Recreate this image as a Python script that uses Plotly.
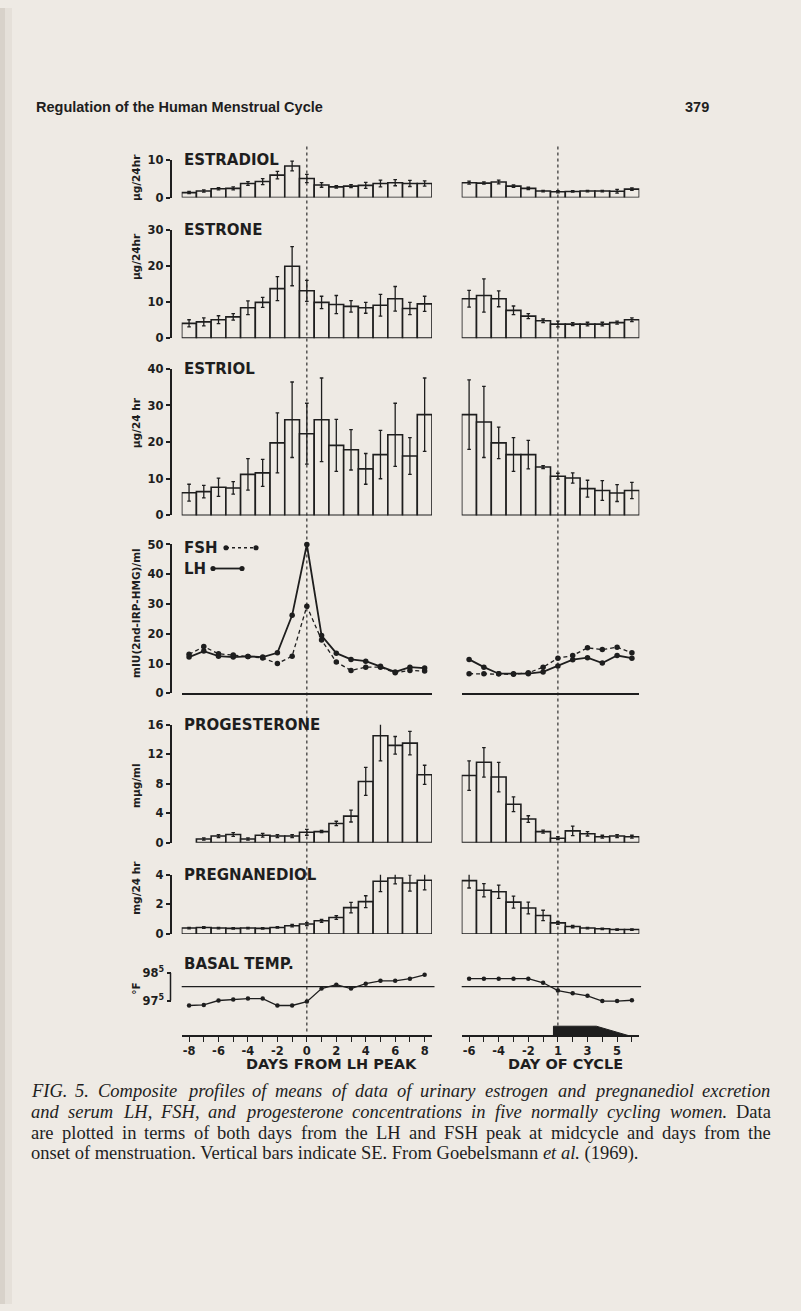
import plotly.graph_objects as go

W, H = 801, 1311
BG = '#eeeae4'
INK = '#1e1e1e'

# ---------------- data ----------------
lh_days = list(range(-8, 9))                      # days from LH peak
prog_days = list(range(-7, 9))                    # progesterone starts at day -7
cycle_days = ['-6', '-5', '-4', '-3', '-2', '-1', '1', '2', '3', '4', '5', '6']
lh_tick_labels = ['-8', '', '-6', '', '-4', '', '-2', '', '0', '', '2', '', '4', '', '6', '', '8']
cycle_tick_labels = ['-6', '', '-4', '', '-2', '', '1', '', '3', '', '5', '']

estradiol_lh = [1.3, 1.7, 2.3, 2.4, 3.7, 4.2, 5.9, 8.3, 5.0, 3.3, 2.8, 3.0, 3.2, 3.7, 3.9, 3.7, 3.7]
estradiol_lh_se = [0.3, 0.3, 0.3, 0.4, 0.5, 0.8, 1.0, 1.3, 1.1, 0.6, 0.3, 0.4, 0.8, 0.9, 0.8, 0.8, 0.7]
estradiol_cy = [3.9, 3.8, 4.1, 3.0, 2.4, 1.7, 1.5, 1.6, 1.7, 1.7, 1.65, 2.2]
estradiol_cy_se = [0.4, 0.3, 0.5, 0.3, 0.3, 0.2, 0.3, 0.2, 0.2, 0.2, 0.5, 0.3]

estrone_lh = [4.1, 4.5, 5.1, 5.9, 8.4, 9.9, 13.7, 19.9, 13.1, 9.9, 9.3, 8.8, 8.4, 9.1, 10.9, 8.2, 9.5]
estrone_lh_se = [1.0, 1.1, 1.1, 0.9, 1.9, 1.4, 3.3, 5.4, 2.9, 1.7, 2.5, 1.6, 1.5, 3.0, 3.4, 1.7, 2.1]
estrone_cy = [10.9, 11.8, 10.9, 7.7, 6.1, 4.8, 3.9, 3.9, 3.9, 3.9, 4.3, 5.1]
estrone_cy_se = [2.3, 4.6, 2.2, 1.2, 0.7, 0.5, 0.8, 0.4, 0.5, 0.5, 0.4, 0.5]

estriol_lh = [6.2, 6.5, 7.7, 7.5, 11.2, 11.6, 19.8, 26.1, 22.3, 26.1, 19.1, 17.9, 12.7, 16.6, 22.0, 16.2, 27.5]
estriol_lh_se = [2.3, 1.7, 2.5, 1.7, 4.3, 3.7, 8.2, 10.3, 8.3, 11.4, 7.1, 5.5, 4.2, 6.6, 8.6, 5.0, 10.0]
estriol_cy = [27.5, 25.5, 19.8, 16.6, 16.6, 13.2, 10.7, 10.2, 7.3, 6.8, 6.1, 6.8]
estriol_cy_se = [9.5, 9.7, 4.3, 4.6, 3.9, 0.4, 0.8, 1.4, 2.3, 2.7, 2.3, 2.2]

fsh_lh = [13.1, 15.7, 13.3, 12.9, 12.4, 11.9, 10.0, 12.5, 29.3, 17.9, 10.5, 7.7, 8.8, 8.8, 6.9, 7.7, 7.5]
lh_lh = [12.2, 14.2, 12.5, 12.2, 12.4, 12.2, 13.6, 26.2, 50.0, 19.4, 13.5, 11.4, 10.8, 9.1, 7.2, 8.8, 8.5]
fsh_cy = [6.6, 6.6, 6.6, 6.4, 6.9, 8.8, 11.8, 12.7, 15.3, 14.7, 15.5, 13.6]
lh_cy = [11.4, 8.8, 6.6, 6.6, 6.6, 7.2, 9.2, 11.3, 12.0, 10.2, 12.7, 11.8]

progesterone_lh = [0.5, 0.9, 1.1, 0.5, 1.0, 0.9, 0.9, 1.4, 1.5, 2.6, 3.6, 8.3, 14.5, 13.2, 13.5, 9.2]
progesterone_lh_se = [0.15, 0.2, 0.25, 0.15, 0.25, 0.2, 0.2, 0.4, 0.15, 0.3, 0.8, 1.9, 3.4, 1.2, 1.6, 1.3]
progesterone_cy = [9.1, 10.9, 8.9, 5.2, 3.2, 1.5, 0.6, 1.6, 1.2, 0.8, 0.9, 0.8]
progesterone_cy_se = [2.0, 2.0, 2.0, 1.0, 0.45, 0.2, 0.2, 0.65, 0.3, 0.2, 0.2, 0.2]

pregnanediol_lh = [0.4, 0.44, 0.4, 0.38, 0.4, 0.38, 0.44, 0.56, 0.67, 0.89, 1.11, 1.78, 2.18, 3.56, 3.78, 3.44, 3.62]
pregnanediol_lh_se = [0.05, 0.06, 0.05, 0.05, 0.05, 0.05, 0.05, 0.08, 0.1, 0.1, 0.12, 0.35, 0.4, 0.7, 0.4, 0.55, 0.65]
pregnanediol_cy = [3.6, 2.95, 2.85, 2.15, 1.75, 1.25, 0.75, 0.5, 0.4, 0.35, 0.3, 0.3]
pregnanediol_cy_se = [0.5, 0.45, 0.45, 0.4, 0.4, 0.35, 0.1, 0.08, 0.05, 0.05, 0.05, 0.05]

temp_lh = [97.32, 97.34, 97.5, 97.54, 97.57, 97.57, 97.32, 97.32, 97.46, 97.93, 98.07, 97.93, 98.11, 98.21, 98.21, 98.29, 98.43]
temp_cy = [98.29, 98.29, 98.29, 98.29, 98.29, 98.14, 97.86, 97.76, 97.67, 97.48, 97.48, 97.51]
temp_ref = 98.0
temp_ticks = [97.5, 98.5]


# ---------------- helpers ----------------
def px(x):
    return x / W


def py(y):
    return 1 - y / H


LEFT = (181.7, 432.0)
RIGHT = (461.7, 639.3)
YAX_X = 170.5
AXIS_Y = 1039.6

FONT = 'DejaVu Sans'

# (title, top px, bottom px, range, tickvals, ticktext, y-title, y-title center px)
panels = [
    ('ESTRADIOL', 153.3, 191.7, [0, 10], [0, 10], ['0', '10'], 'µg/24hr', 172),
    ('ESTRONE', 224.3, 334.0, [0, 30], [0, 10, 20, 30], ['0', '10', '20', '30'], 'µg/24hr', 252),
    ('ESTRIOL', 365.0, 513.3, [0, 40], [0, 10, 20, 30, 40], ['0', '10', '20', '30', '40'], 'µg/24 hr', 420),
    ('FSH', 542.7, 693.3, [0, 50], [0, 10, 20, 30, 40, 50], ['0', '10', '20', '30', '40', '50'],
     'mIU(2nd-IRP-HMG)/ml', 612),
    ('PROGESTERONE', 725.0, 844.3, [0, 16], [0, 4, 8, 12, 16], ['0', '4', '8', '12', '16'], 'mµg/ml', 787),
    ('PREGNANEDIOL', 876.7, 936.7, [0, 4], [0, 2, 4], ['0', '2', '4'], 'mg/24 hr', 890),
    # temp panel: 98.5 at 976 px, 97.5 at 1004 px, range extended downwards so low points are not clipped
    ('BASAL TEMP.', 976.0, 1012.4, [97.2, 98.5], temp_ticks, ['97<sup>5</sup>', '98<sup>5</sup>'], '°F', 992),
]

fig = go.Figure()
layout = dict(
    width=W, height=H, margin=dict(l=0, r=0, t=0, b=0),
    paper_bgcolor=BG, plot_bgcolor='rgba(0,0,0,0)', showlegend=False,
    font=dict(family=FONT, color=INK),
)
annotations = []
shapes = []

bar_series = {
    0: (estradiol_lh, estradiol_lh_se, estradiol_cy, estradiol_cy_se),
    1: (estrone_lh, estrone_lh_se, estrone_cy, estrone_cy_se),
    2: (estriol_lh, estriol_lh_se, estriol_cy, estriol_cy_se),
    4: (progesterone_lh, progesterone_lh_se, progesterone_cy, progesterone_cy_se),
    5: (pregnanediol_lh, pregnanediol_lh_se, pregnanediol_cy, pregnanediol_cy_se),
}


def bar(x, y, e, n):
    return go.Bar(
        x=x, y=y, width=1, xaxis=f'x{n}', yaxis=f'y{n}', cliponaxis=False,
        marker=dict(color=BG, line=dict(color=INK, width=1.6)),
        error_y=dict(type='data', array=e, color=INK, thickness=1.3, width=1.8),
        hoverinfo='skip',
    )


tickfont = dict(family=FONT, size=11.5, color=INK, weight='bold')

for i, (title, top, bot, rng, tv, tt, ytitle, ytc) in enumerate(panels):
    nl, nr = 2 * i + 1, 2 * i + 2
    ydom = [py(bot), py(top)]
    is_temp = (i == 6)
    xl = dict(domain=[px(LEFT[0]), px(LEFT[1])], range=[-8.5, 8.5], anchor=f'y{nl}',
              showgrid=False, zeroline=False, fixedrange=True)
    xr = dict(domain=[px(RIGHT[0]), px(RIGHT[1])], range=[-0.5, 11.5], type='category',
              categoryorder='array', categoryarray=cycle_days, anchor=f'y{nr}',
              showgrid=False, zeroline=False, fixedrange=True)
    if i == 3:
        for xa in (xl, xr):
            xa.update(visible=True, showline=True, linecolor=INK, linewidth=1.6,
                      ticks='', showticklabels=False)
    elif is_temp:
        for xa, tvals, ttext in ((xl, lh_days, lh_tick_labels), (xr, cycle_days, cycle_tick_labels)):
            xa.update(visible=True, showline=True, linecolor=INK, linewidth=1.6,
                      anchor='free', position=py(AXIS_Y), ticks='outside', ticklen=5,
                      tickwidth=1.4, tickcolor=INK, tickmode='array', tickvals=tvals,
                      ticktext=ttext, tickfont=tickfont)
    else:
        xl['visible'] = False
        xr['visible'] = False
    layout[f'xaxis{nl}'] = xl
    layout[f'xaxis{nr}'] = xr
    layout[f'yaxis{nl}'] = dict(
        domain=ydom, range=rng, anchor='free', position=px(YAX_X), showline=not is_temp,
        linecolor=INK, linewidth=1.5, ticks='outside', ticklen=4, tickwidth=1.5, tickcolor=INK,
        tickmode='array', tickvals=tv, ticktext=tt, showgrid=False, zeroline=False,
        tickfont=tickfont, fixedrange=True,
    )
    layout[f'yaxis{nr}'] = dict(domain=ydom, range=rng, anchor=f'x{nr}', visible=False,
                                fixedrange=True)

    # panel title
    if i != 3:
        annotations.append(dict(x=px(182), y=py(top - (0 if not is_temp else 9)), xref='paper', yref='paper',
                                text=f'<b>{title}</b>', showarrow=False, xanchor='left',
                                yanchor='middle', font=dict(family=FONT, size=15, color=INK)))
    # y-axis title
    annotations.append(dict(x=px(136), y=py(ytc), xref='paper', yref='paper', text=f'<b>{ytitle}</b>',
                            textangle=-90, showarrow=False, xanchor='center', yanchor='middle',
                            font=dict(family=FONT, size=10.5, color=INK)))

    if i in bar_series:
        yl, el, yr, er = bar_series[i]
        xdays = prog_days if i == 4 else lh_days
        fig.add_trace(bar(xdays, yl, el, nl))
        fig.add_trace(bar(cycle_days, yr, er, nr))

# temperature axis bracket (only between the two labelled ticks)
shapes.append(dict(type='line', xref='paper', yref='y13', x0=px(YAX_X), x1=px(YAX_X),
                   y0=temp_ticks[0], y1=temp_ticks[1], line=dict(color=INK, width=1.5)))

# FSH / LH lines
for xs, ys, n in ((lh_days, fsh_lh, 7), (cycle_days, fsh_cy, 8)):
    fig.add_trace(go.Scatter(x=xs, y=ys, xaxis=f'x{n}', yaxis=f'y{n}', mode='lines+markers',
                             cliponaxis=False, line=dict(color=INK, width=1.3, dash='4px,3px'),
                             marker=dict(size=5.5, color=INK), hoverinfo='skip'))
for xs, ys, n in ((lh_days, lh_lh, 7), (cycle_days, lh_cy, 8)):
    fig.add_trace(go.Scatter(x=xs, y=ys, xaxis=f'x{n}', yaxis=f'y{n}', mode='lines+markers',
                             cliponaxis=False, line=dict(color=INK, width=1.8),
                             marker=dict(size=5.5, color=INK), hoverinfo='skip'))

# basal temperature
for xs, ys, n in ((lh_days, temp_lh, 13), (cycle_days, temp_cy, 14)):
    fig.add_trace(go.Scatter(x=xs, y=ys, xaxis=f'x{n}', yaxis=f'y{n}', mode='lines+markers',
                             cliponaxis=False, line=dict(color=INK, width=1.3),
                             marker=dict(size=4.5, color=INK), hoverinfo='skip'))
    shapes.append(dict(type='line', xref=f'x{n} domain', yref=f'y{n}', x0=0, x1=1.01,
                       y0=temp_ref, y1=temp_ref, line=dict(color=INK, width=1.4)))

# FSH / LH legend
annotations.append(dict(x=px(182), y=py(546), xref='paper', yref='paper', text='<b>FSH</b>',
                        showarrow=False, xanchor='left', yanchor='middle',
                        font=dict(family=FONT, size=15, color=INK)))
annotations.append(dict(x=px(182), y=py(567), xref='paper', yref='paper', text='<b>LH</b>',
                        showarrow=False, xanchor='left', yanchor='middle',
                        font=dict(family=FONT, size=15, color=INK)))
shapes.append(dict(type='line', xref='paper', yref='paper', x0=px(226), x1=px(256), y0=py(546),
                   y1=py(546), line=dict(color=INK, width=1.3, dash='3px,3px')))
shapes.append(dict(type='line', xref='paper', yref='paper', x0=px(213), x1=px(242), y0=py(567),
                   y1=py(567), line=dict(color=INK, width=1.8)))
for cx, cy in ((226, 546), (256, 546), (213, 567), (242, 567)):
    shapes.append(dict(type='circle', xref='paper', yref='paper', x0=px(cx - 2.6), x1=px(cx + 2.6),
                       y0=py(cy + 2.6), y1=py(cy - 2.6), fillcolor=INK, line=dict(width=0)))

# dotted reference lines (LH peak, day 1 of cycle)
shapes.append(dict(type='line', xref='x1', yref='paper', x0=0, x1=0, y0=py(140), y1=py(1037),
                   line=dict(color=INK, width=1.1, dash='dot')))
shapes.append(dict(type='line', xref='x2', yref='paper', x0=6, x1=6, y0=py(140), y1=py(1030),
                   line=dict(color=INK, width=1.1, dash='dot')))

# menses bar
shapes.append(dict(type='path', xref='x14', yref='paper',
                   path=f'M 5.7,{py(AXIS_Y)} L 5.7,{py(1030)} L 8.6,{py(1030)} L 10.8,{py(AXIS_Y)} Z',
                   fillcolor=INK, line=dict(color=INK, width=1)))

# axis captions
annotations.append(dict(x=px(331), y=py(1068), xref='paper', yref='paper',
                        text='<b>DAYS FROM LH PEAK</b>', showarrow=False, xanchor='center',
                        yanchor='middle', font=dict(family=FONT, size=14.5, color=INK)))
annotations.append(dict(x=px(565), y=py(1068), xref='paper', yref='paper',
                        text='<b>DAY OF CYCLE</b>', showarrow=False, xanchor='center',
                        yanchor='middle', font=dict(family=FONT, size=14.5, color=INK)))

# page header
annotations.append(dict(x=px(34), y=py(100), xref='paper', yref='paper',
                        text='<b>Regulation of the Human Menstrual Cycle</b>', showarrow=False,
                        xanchor='left', yanchor='middle',
                        font=dict(family='Liberation Sans', size=14.5, color=INK)))
annotations.append(dict(x=px(711), y=py(100), xref='paper', yref='paper', text='<b>379</b>',
                        showarrow=False, xanchor='right', yanchor='middle',
                        font=dict(family='Liberation Sans', size=14.5, color=INK)))

# ---------------- figure caption (justified lines) ----------------
ROMAN = dict(zip('abcdefghijklmnopqrstuvwxyz',
                 [444, 500, 444, 500, 444, 333, 500, 500, 278, 278, 500, 278, 778,
                  500, 500, 500, 500, 333, 389, 278, 500, 500, 722, 500, 500, 444]))
ROMAN.update(zip('ABCDEFGHIJKLMNOPQRSTUVWXYZ',
                 [722, 667, 667, 722, 611, 556, 722, 722, 333, 389, 722, 611, 889,
                  722, 722, 556, 722, 667, 556, 611, 722, 722, 944, 722, 722, 611]))
ITAL = dict(zip('abcdefghijklmnopqrstuvwxyz',
                [500, 500, 444, 500, 444, 278, 500, 500, 278, 278, 444, 278, 722,
                 500, 500, 500, 500, 389, 389, 278, 500, 444, 667, 444, 444, 389]))
ITAL.update(zip('ABCDEFGHIJKLMNOPQRSTUVWXYZ',
                [611, 611, 667, 722, 611, 611, 722, 722, 333, 444, 667, 556, 833,
                 667, 722, 611, 722, 611, 500, 556, 722, 611, 833, 611, 556, 556]))
for tbl in (ROMAN, ITAL):
    tbl.update({c: 500 for c in '0123456789'})
    tbl.update({'.': 250, ',': 250, '(': 333, ')': 333, '-': 333, ' ': 250})

CAP_SIZE = 18.5
CAP_X0, CAP_X1 = 30, 770


def word_width(word, italic):
    tbl = ITAL if italic else ROMAN
    return sum(tbl.get(c, 500) for c in word) * CAP_SIZE / 1000


caption_lines = [
    ([('FIG. 5. Composite profiles of means of data of urinary estrogen and pregnanediol excretion', True)], True),
    ([('and serum LH, FSH, and progesterone concentrations in five normally cycling women.', True),
      ('Data', False)], True),
    ([('are plotted in terms of both days from the LH and FSH peak at midcycle and days from the', False)], True),
    ([('onset of menstruation. Vertical bars indicate SE. From Goebelsmann', False), ('et al.', True),
      ('(1969).', False)], False),
]
for k, (chunks, justify) in enumerate(caption_lines):
    yy = py(1096 + 21 * k)
    words = [(w, it) for txt, it in chunks for w in txt.split(' ')]
    if justify:
        widths = [word_width(w, it) for w, it in words]
        gap = (CAP_X1 - CAP_X0 - sum(widths)) / (len(words) - 1)
        x = CAP_X0
        for (w, it), wd in zip(words, widths):
            annotations.append(dict(x=px(x), y=yy, xref='paper', yref='paper',
                                    text=f'<i>{w}</i>' if it else w, showarrow=False,
                                    xanchor='left', yanchor='middle', borderpad=0,
                                    font=dict(family='Liberation Serif', size=CAP_SIZE, color=INK)))
            x += wd + gap
    else:
        text = ' '.join(f'<i>{t}</i>' if it else t for t, it in chunks)
        annotations.append(dict(x=px(CAP_X0), y=yy, xref='paper', yref='paper', text=text,
                                showarrow=False, xanchor='left', yanchor='middle', borderpad=0,
                                font=dict(family='Liberation Serif', size=CAP_SIZE, color=INK)))

# binding shadow at the left edge
shapes.append(dict(type='rect', xref='paper', yref='paper', x0=0, x1=px(5), y0=0, y1=1,
                   fillcolor='#d8d2ca', line=dict(width=0), layer='below'))
shapes.append(dict(type='rect', xref='paper', yref='paper', x0=px(5), x1=px(12), y0=0, y1=1,
                   fillcolor='#e5e0d9', line=dict(width=0), layer='below'))

layout['annotations'] = annotations
layout['shapes'] = shapes
fig.update_layout(**layout)
fig.write_html('out.html', config={'displayModeBar': False},
               post_script="document.body.style.margin='0';"
                           "document.body.style.overflow='hidden';"
                           "document.body.style.background='" + BG + "';")
